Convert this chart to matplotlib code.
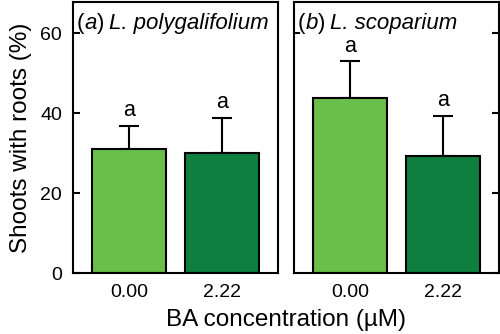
import matplotlib
matplotlib.use("Agg")
import matplotlib.pyplot as plt
import matplotlib.transforms as mtransforms

plt.rcParams.update({"font.family": ["Liberation Sans", "DejaVu Sans"]})

conc_labels = ["0.00", "2.22"]
panels = [("a", "L. polygalifolium"), ("b", "L. scoparium")]
means = [[31.0, 30.0], [43.8, 29.3]]
errs = [[5.8, 8.8], [9.1, 10.0]]
letters = [["a", "a"], ["a", "a"]]
colors = ["#6abf4a", "#0e7f3e"]

W, H = 500, 334
fig = plt.figure(figsize=(W / 100, H / 100), dpi=100)


def panel_title(ax, tag, species, fs=16):
    # "(" upright, tag italic, ")" upright, species italic
    x = 0.018
    for txt, st, gap in [("(", "normal", 0), (tag, "italic", 0), (")", "normal", 5), (species, "italic", 0)]:
        t = ax.text(x, 0.96, txt, transform=ax.transAxes, ha="left", va="top",
                    fontsize=fs, style=st)
        fig.canvas.draw()
        bb = t.get_window_extent()
        x = (bb.x1 - ax.bbox.x0 + gap) / ax.bbox.width


bottom, top = 273, 2
for i, (tag, species) in enumerate(panels):
    left = 73 if i == 0 else 294
    ax = fig.add_axes([left / W, (H - bottom) / H, 205 / W, (bottom - top) / H])
    x = [0, 1]
    ax.bar(x, means[i], width=0.8, color=colors, edgecolor="black", linewidth=1.5, zorder=2)
    ax.errorbar(x, means[i], yerr=[[0, 0], errs[i]], fmt="none", ecolor="black",
                elinewidth=1.5, capsize=7, capthick=1.5, zorder=1)
    for xi, m, e, l in zip(x, means[i], errs[i], letters[i]):
        ax.annotate(l, (xi, m + e), xytext=(0, 3.5), textcoords="offset points",
                    ha="center", va="bottom", fontsize=15.5)
    ax.set_xlim(-0.61, 1.61)
    ax.set_ylim(0, 67.75)
    ax.set_xticks(x)
    ax.set_xticklabels(conc_labels, fontsize=14)
    ax.tick_params(axis="x", length=0, pad=8)
    ax.set_yticks([0, 20, 40, 60])
    for s in ax.spines.values():
        s.set_linewidth(1.5)
    if i == 0:
        ax.tick_params(axis="y", direction="in", length=5, width=1.5, labelsize=14, pad=8)
        ax.set_ylabel("Shoots with roots (%)", fontsize=17.5, labelpad=6)
    else:
        ax.tick_params(axis="y", direction="in", length=5, width=1.5, left=False,
                       right=True, labelleft=False)
        trans = mtransforms.blended_transform_factory(ax.transAxes, ax.transData)
        ax.plot([0, 5 / 205], [60, 60], color="black", lw=1.5, transform=trans,
                clip_on=False)
    panel_title(ax, tag, species)

fig.text(286 / W, 1 - 320 / H, "BA concentration (µM)", ha="center", va="center", fontsize=17.5)
fig.savefig("out.png", dpi=100)
